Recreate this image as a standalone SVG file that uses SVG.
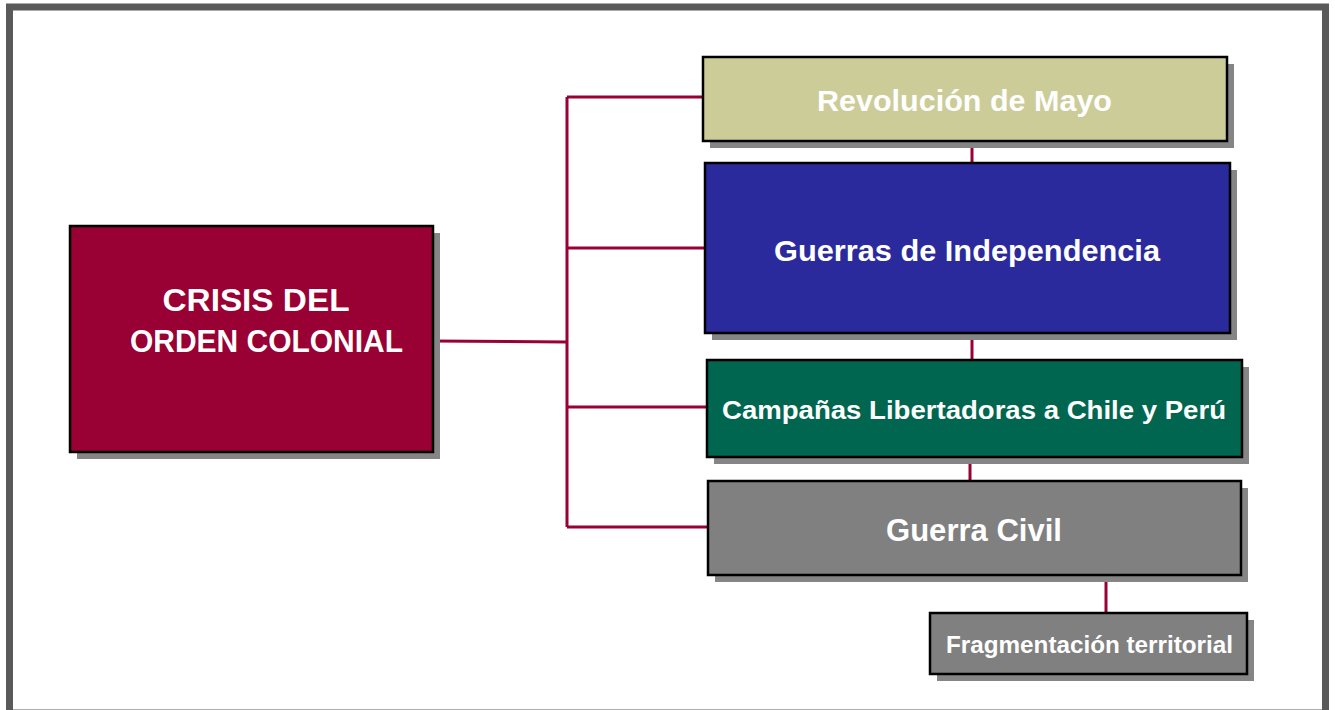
<svg xmlns="http://www.w3.org/2000/svg" width="1335" height="710" viewBox="0 0 1335 710">
<style>
.box{stroke:#000;stroke-width:2.5}
.sh{fill:#858585}
.t{font-family:"Liberation Sans",Arial,sans-serif;font-weight:bold;fill:#fff;text-anchor:middle}
.c{stroke:#990033;stroke-width:3;fill:none}
</style>
<rect x="0" y="0" width="1335" height="710" fill="#fff"/>
<rect x="9.5" y="7" width="1316" height="706" fill="none" stroke="#5a5a5a" stroke-width="7"/>
<g id="connectors">
<path class="c" d="M433 341 L567 342"/>
<path class="c" d="M567 97 L567 527"/>
<path class="c" d="M567 97 L703 97"/>
<path class="c" d="M567 248 L705 248"/>
<path class="c" d="M567 407 L707 407"/>
<path class="c" d="M567 527 L708 527"/>
<path class="c" d="M972 141 L972 163"/>
<path class="c" d="M972 333 L972 360"/>
<path class="c" d="M970 457 L970 481"/>
<path class="c" d="M1106 575 L1106 613"/>
</g>
<g id="crisis">
<rect class="sh" x="77" y="233" width="363" height="226"/>
<rect class="box" x="70" y="226" width="363" height="226" fill="#990033"/>
<text class="t" font-size="31" x="256" y="311" textLength="187" lengthAdjust="spacingAndGlyphs">CRISIS DEL</text>
<text class="t" font-size="31" x="266.5" y="352" textLength="273" lengthAdjust="spacingAndGlyphs">ORDEN COLONIAL</text>
</g>
<g id="revolucion">
<rect class="sh" x="710" y="64" width="524" height="84"/>
<rect class="box" x="703" y="57" width="524" height="84" fill="#cccc99"/>
<text class="t" font-size="30" x="964.5" y="111" textLength="295" lengthAdjust="spacingAndGlyphs">Revolución de Mayo</text>
</g>
<g id="guerras">
<rect class="sh" x="712" y="170" width="525" height="170"/>
<rect class="box" x="705" y="163" width="525" height="170" fill="#2a2a9c"/>
<text class="t" font-size="30" x="967" y="261" textLength="386" lengthAdjust="spacingAndGlyphs">Guerras de Independencia</text>
</g>
<g id="campanas">
<rect class="sh" x="714" y="367" width="535" height="97"/>
<rect class="box" x="707" y="360" width="535" height="97" fill="#006650"/>
<text class="t" font-size="26" x="974" y="419" textLength="504" lengthAdjust="spacingAndGlyphs">Campañas Libertadoras a Chile y Perú</text>
</g>
<g id="guerracivil">
<rect class="sh" x="715" y="488" width="533" height="94"/>
<rect class="box" x="708" y="481" width="533" height="94" fill="#808080"/>
<text class="t" font-size="31" x="974" y="541" textLength="176" lengthAdjust="spacingAndGlyphs">Guerra Civil</text>
</g>
<g id="fragmentacion">
<rect class="sh" x="937" y="620" width="317" height="61"/>
<rect class="box" x="930" y="613" width="317" height="61" fill="#808080"/>
<text class="t" font-size="23" x="1089.5" y="653" textLength="287" lengthAdjust="spacingAndGlyphs">Fragmentación territorial</text>
</g>
</svg>
